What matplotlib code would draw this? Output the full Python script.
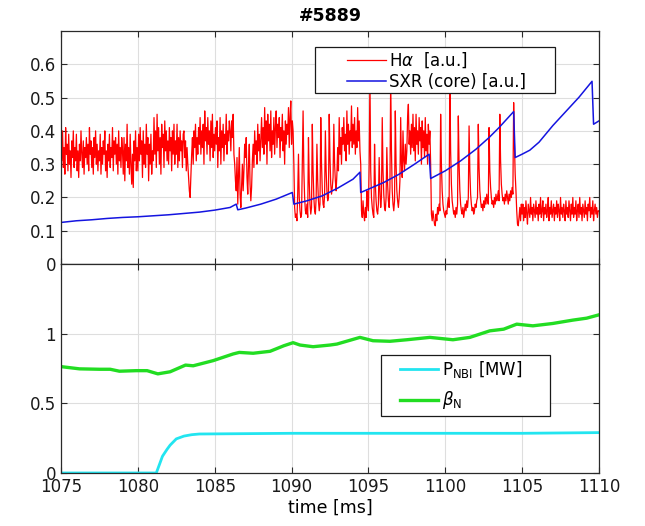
import numpy as np
import matplotlib
matplotlib.use("Agg")
import matplotlib.pyplot as plt
from matplotlib.patches import Rectangle

shot = "#5889"

# H-alpha emission [a.u.]: one row per millisecond starting at 1075 ms,
# samples every 0.05 ms inside each row
ha_start = 1075
ha_dt = 0.05
halpha_rows = [
    [0.38, 0.31, 0.40, 0.29, 0.35, 0.27, 0.41, 0.33, 0.36, 0.28, 0.39, 0.30, 0.34, 0.26, 0.37, 0.32, 0.40, 0.29, 0.35, 0.31],  # 1075
    [0.39, 0.28, 0.34, 0.26, 0.36, 0.31, 0.40, 0.33, 0.29, 0.37, 0.27, 0.35, 0.32, 0.38, 0.30, 0.36, 0.28, 0.41, 0.33, 0.37],  # 1076
    [0.29, 0.35, 0.27, 0.38, 0.32, 0.40, 0.30, 0.36, 0.28, 0.34, 0.31, 0.39, 0.27, 0.35, 0.30, 0.37, 0.33, 0.40, 0.28, 0.34],  # 1077
    [0.26, 0.36, 0.31, 0.39, 0.29, 0.35, 0.32, 0.41, 0.28, 0.37, 0.33, 0.38, 0.30, 0.36, 0.27, 0.40, 0.31, 0.35, 0.29, 0.38],  # 1078
    [0.34, 0.27, 0.38, 0.25, 0.36, 0.31, 0.42, 0.29, 0.35, 0.27, 0.39, 0.30, 0.24, 0.33, 0.23, 0.37, 0.31, 0.40, 0.28, 0.35],  # 1079
    [0.28, 0.39, 0.31, 0.41, 0.33, 0.37, 0.26, 0.40, 0.30, 0.36, 0.29, 0.42, 0.33, 0.38, 0.25, 0.36, 0.30, 0.39, 0.27, 0.34],  # 1080
    [0.31, 0.44, 0.33, 0.40, 0.29, 0.45, 0.34, 0.41, 0.30, 0.38, 0.27, 0.42, 0.35, 0.39, 0.29, 0.43, 0.34, 0.40, 0.31, 0.37],  # 1081
    [0.30, 0.41, 0.34, 0.38, 0.28, 0.40, 0.33, 0.42, 0.30, 0.37, 0.33, 0.42, 0.29, 0.38, 0.31, 0.40, 0.34, 0.37, 0.29, 0.39],  # 1082
    [0.40, 0.32, 0.37, 0.28, 0.35, 0.30, 0.26, 0.22, 0.20, 0.27, 0.33, 0.38, 0.30, 0.40, 0.35, 0.42, 0.31, 0.38, 0.33, 0.41],  # 1083
    [0.36, 0.44, 0.33, 0.40, 0.35, 0.42, 0.30, 0.46, 0.37, 0.41, 0.33, 0.44, 0.36, 0.40, 0.31, 0.43, 0.35, 0.45, 0.32, 0.39],  # 1084
    [0.34, 0.41, 0.36, 0.43, 0.29, 0.38, 0.34, 0.44, 0.30, 0.40, 0.35, 0.42, 0.31, 0.39, 0.36, 0.45, 0.33, 0.40, 0.37, 0.43],  # 1085
    [0.40, 0.34, 0.43, 0.38, 0.45, 0.33, 0.30, 0.25, 0.22, 0.32, 0.18, 0.26, 0.35, 0.21, 0.17, 0.24, 0.30, 0.22, 0.28, 0.36],  # 1086
    [0.32, 0.38, 0.26, 0.21, 0.30, 0.36, 0.24, 0.19, 0.23, 0.31, 0.36, 0.29, 0.40, 0.33, 0.37, 0.30, 0.42, 0.34, 0.39, 0.31],  # 1087
    [0.38, 0.44, 0.35, 0.41, 0.33, 0.47, 0.36, 0.43, 0.30, 0.45, 0.37, 0.42, 0.34, 0.46, 0.32, 0.40, 0.36, 0.44, 0.33, 0.41],  # 1088
    [0.46, 0.35, 0.42, 0.38, 0.44, 0.32, 0.41, 0.37, 0.45, 0.34, 0.40, 0.30, 0.43, 0.36, 0.42, 0.39, 0.47, 0.35, 0.44, 0.49],  # 1089
    [0.36, 0.43, 0.40, 0.30, 0.17, 0.14, 0.15, 0.13, 0.21, 0.33, 0.20, 0.16, 0.14, 0.15, 0.30, 0.46, 0.28, 0.20, 0.16, 0.15],  # 1090
    [0.18, 0.14, 0.38, 0.25, 0.18, 0.15, 0.17, 0.42, 0.28, 0.20, 0.16, 0.15, 0.20, 0.36, 0.25, 0.19, 0.16, 0.18, 0.44, 0.30],  # 1091
    [0.22, 0.18, 0.17, 0.21, 0.40, 0.28, 0.22, 0.19, 0.20, 0.45, 0.32, 0.24, 0.21, 0.23, 0.26, 0.42, 0.30, 0.25, 0.22, 0.27],  # 1092
    [0.35, 0.28, 0.44, 0.33, 0.38, 0.30, 0.41, 0.36, 0.44, 0.34, 0.39, 0.31, 0.46, 0.36, 0.42, 0.33, 0.40, 0.37, 0.475, 0.35],  # 1093
    [0.42, 0.36, 0.44, 0.33, 0.40, 0.35, 0.47, 0.37, 0.43, 0.34, 0.30, 0.16, 0.14, 0.19, 0.15, 0.13, 0.17, 0.14, 0.22, 0.18],  # 1094
    [0.16, 0.30, 0.56, 0.28, 0.20, 0.17, 0.15, 0.14, 0.36, 0.24, 0.19, 0.16, 0.15, 0.18, 0.32, 0.22, 0.17, 0.20, 0.44, 0.28],  # 1095
    [0.21, 0.17, 0.16, 0.20, 0.35, 0.24, 0.19, 0.17, 0.23, 0.56, 0.34, 0.22, 0.18, 0.16, 0.19, 0.46, 0.30, 0.22, 0.19, 0.17],  # 1096
    [0.20, 0.25, 0.44, 0.30, 0.26, 0.40, 0.31, 0.28, 0.36, 0.30, 0.34, 0.44, 0.48, 0.36, 0.40, 0.33, 0.42, 0.35, 0.45, 0.34],  # 1097
    [0.41, 0.31, 0.45, 0.36, 0.40, 0.33, 0.44, 0.37, 0.41, 0.30, 0.43, 0.35, 0.40, 0.32, 0.44, 0.34, 0.39, 0.30, 0.42, 0.36],  # 1098
    [0.40, 0.30, 0.15, 0.13, 0.16, 0.14, 0.12, 0.115, 0.15, 0.13, 0.17, 0.15, 0.18, 0.16, 0.45, 0.30, 0.22, 0.18, 0.16, 0.15],  # 1099
    [0.14, 0.16, 0.15, 0.18, 0.20, 0.17, 0.56, 0.34, 0.24, 0.19, 0.17, 0.15, 0.16, 0.14, 0.17, 0.15, 0.18, 0.445, 0.30, 0.22],  # 1100
    [0.18, 0.16, 0.15, 0.17, 0.14, 0.16, 0.18, 0.16, 0.19, 0.17, 0.20, 0.415, 0.28, 0.21, 0.18, 0.16, 0.17, 0.15, 0.16, 0.18],  # 1101
    [0.17, 0.19, 0.20, 0.42, 0.29, 0.22, 0.19, 0.17, 0.18, 0.16, 0.19, 0.17, 0.20, 0.18, 0.21, 0.19, 0.18, 0.41, 0.28, 0.23],  # 1102
    [0.20, 0.18, 0.19, 0.17, 0.20, 0.18, 0.21, 0.19, 0.20, 0.22, 0.19, 0.45, 0.31, 0.24, 0.21, 0.19, 0.20, 0.18, 0.21, 0.19],  # 1103
    [0.22, 0.20, 0.18, 0.21, 0.19, 0.22, 0.20, 0.23, 0.21, 0.485, 0.36, 0.27, 0.22, 0.16, 0.12, 0.115, 0.14, 0.17, 0.13, 0.18],  # 1104
    [0.15, 0.18, 0.13, 0.17, 0.14, 0.19, 0.15, 0.12, 0.18, 0.16, 0.14, 0.20, 0.15, 0.17, 0.13, 0.18, 0.16, 0.14, 0.19, 0.15],  # 1105
    [0.17, 0.13, 0.18, 0.15, 0.20, 0.14, 0.16, 0.19, 0.13, 0.17, 0.15, 0.18, 0.14, 0.16, 0.20, 0.13, 0.17, 0.15, 0.19, 0.14],  # 1106
    [0.16, 0.18, 0.13, 0.17, 0.15, 0.19, 0.14, 0.18, 0.16, 0.13, 0.20, 0.15, 0.17, 0.14, 0.18, 0.16, 0.13, 0.19, 0.15, 0.17],  # 1107
    [0.14, 0.19, 0.16, 0.13, 0.18, 0.15, 0.20, 0.14, 0.17, 0.15, 0.19, 0.13, 0.16, 0.18, 0.14, 0.20, 0.15, 0.17, 0.13, 0.18],  # 1108
    [0.16, 0.14, 0.19, 0.15, 0.17, 0.13, 0.18, 0.16, 0.20, 0.14, 0.17, 0.15, 0.19, 0.13, 0.16, 0.18, 0.15, 0.17, 0.14, 0.16],  # 1109
    [0.16],                                                                                                                  # 1110
]

# core soft X-ray [a.u.] (sawtooth crashes)
sxr_t = [1075.0, 1076.0, 1077.0, 1078.0, 1079.0, 1080.0, 1081.0, 1082.0,
         1083.0, 1084.0, 1085.0, 1086.0, 1086.4, 1086.5, 1087.0, 1088.0,
         1089.0, 1090.05, 1090.15, 1091.0, 1092.0, 1093.0, 1094.0, 1094.45,
         1094.5, 1095.0, 1096.0, 1097.0, 1098.0, 1098.95, 1099.05, 1100.0,
         1101.0, 1102.0, 1102.85, 1103.5, 1104.45, 1104.55, 1105.0, 1105.5,
         1106.1, 1107.0, 1107.9, 1108.7, 1109.55, 1109.65, 1110.0]
sxr = [0.125, 0.130, 0.133, 0.137, 0.140, 0.142, 0.145, 0.148,
       0.152, 0.156, 0.162, 0.170, 0.180, 0.163, 0.168, 0.180,
       0.195, 0.215, 0.180, 0.190, 0.205, 0.228, 0.255, 0.276,
       0.215, 0.225, 0.245, 0.270, 0.300, 0.330, 0.257, 0.280,
       0.310, 0.345, 0.380, 0.410, 0.458, 0.320, 0.330, 0.342,
       0.366, 0.416, 0.461, 0.501, 0.549, 0.420, 0.430]

# neutral beam power [MW]
nbi_t = [1075.0, 1081.2, 1081.4, 1081.6, 1081.9, 1082.1, 1082.5, 1083.0,
         1083.5, 1084.0, 1090.0, 1095.0, 1100.0, 1105.0, 1110.0]
nbi = [0.0, 0.0, 0.06, 0.12, 0.17, 0.20, 0.245, 0.265,
       0.275, 0.28, 0.285, 0.285, 0.285, 0.285, 0.29]

# normalised beta
betan_t = [1075.0, 1076.2, 1077.5, 1078.2, 1078.8, 1079.9, 1080.6, 1081.3,
           1082.1, 1083.1, 1083.6, 1084.9, 1086.2, 1086.6, 1087.5, 1088.6,
           1089.5, 1090.1, 1090.55, 1091.4, 1092.5, 1092.95, 1094.45, 1095.3,
           1096.4, 1097.5, 1099.0, 1100.5, 1101.6, 1102.9, 1103.8, 1104.65,
           1105.7, 1107.0, 1108.3, 1109.2, 1110.0]
betan = [0.764, 0.748, 0.745, 0.745, 0.731, 0.735, 0.735, 0.712,
         0.727, 0.775, 0.770, 0.807, 0.855, 0.866, 0.860, 0.874,
         0.914, 0.936, 0.919, 0.907, 0.919, 0.926, 0.974, 0.950,
         0.946, 0.957, 0.974, 0.957, 0.974, 1.021, 1.033, 1.069,
         1.057, 1.074, 1.098, 1.112, 1.136]

top_yticks = [0, 0.1, 0.2, 0.3, 0.4, 0.5, 0.6]
top_ylabels = ["0", "0.1", "0.2", "0.3", "0.4", "0.5", "0.6"]
bot_yticks = [0, 0.5, 1]
bot_ylabels = ["0", "0.5", "1"]
xticks = [1075, 1080, 1085, 1090, 1095, 1100, 1105, 1110]

t_ha, v_ha = [], []
for k, row in enumerate(halpha_rows):
    for j, v in enumerate(row):
        t_ha.append(ha_start + k + j * ha_dt)
        v_ha.append(v)

plt.rcParams["font.family"] = ["DejaVu Sans"]
plt.rcParams["mathtext.fontset"] = "dejavusans"

fig = plt.figure(figsize=(6.45, 5.26), dpi=100)
ax1 = fig.add_axes([0.0946, 0.498, 0.834, 0.443])
ax2 = fig.add_axes([0.0946, 0.1008, 0.834, 0.397])

frame = "#2a2a2a"
for ax in (ax1, ax2):
    ax.set_xlim(1075, 1110)
    ax.set_xticks(xticks)
    ax.grid(True, color="#dedede", lw=0.8)
    ax.set_axisbelow(True)
    ax.tick_params(direction="in", top=True, right=True, length=4,
                   width=0.8, colors=frame, labelsize=12, labelcolor="#1a1a1a")
    for s in ax.spines.values():
        s.set_color(frame)
        s.set_linewidth(0.9)


def legend_box(ax, x0, y0, x1, y1):
    ax.add_patch(Rectangle((x0, y0), x1 - x0, y1 - y0, transform=ax.transAxes,
                           facecolor="white", edgecolor="#1a1a1a", lw=0.9,
                           zorder=4.5, clip_on=False))


# upper panel
ax1.plot(t_ha, v_ha, color="red", lw=0.9, label=r"H$\alpha$  [a.u.]")
ax1.plot(sxr_t, sxr, color="#1414e0", lw=1.1, label="SXR (core) [a.u.]")
ax1.set_ylim(0, 0.7)
ax1.set_yticks(top_yticks)
ax1.set_yticklabels(top_ylabels)
ax1.tick_params(labelbottom=False)
ax1.set_title(shot, fontweight="bold", fontsize=12.5, pad=7)
legend_box(ax1, 0.472, 0.734, 0.918, 0.931)
ax1.legend(loc="upper left", bbox_to_anchor=(0.532, 0.918), fontsize=12,
           frameon=False, handlelength=2.3, handletextpad=0.2,
           borderpad=0, labelspacing=0.2, borderaxespad=0)

# lower panel
ax2.plot(nbi_t, nbi, color="#22e5f0", lw=2.0, label=r"P$_{\rm NBI}$ [MW]")
ax2.plot(betan_t, betan, color="#22dd22", lw=2.4, label=r"$\beta_{\rm N}$")
ax2.set_ylim(0, 1.5)
ax2.set_yticks(bot_yticks)
ax2.set_yticklabels(bot_ylabels)
ax2.set_xlabel("time [ms]", fontsize=12.5, labelpad=2)
legend_box(ax2, 0.595, 0.273, 0.909, 0.565)
ax2.legend(loc="upper left", bbox_to_anchor=(0.630, 0.545), fontsize=12,
           frameon=False, handlelength=2.3, handletextpad=0.2,
           borderpad=0, labelspacing=0.55, borderaxespad=0)

fig.savefig("out.png", dpi=100)
